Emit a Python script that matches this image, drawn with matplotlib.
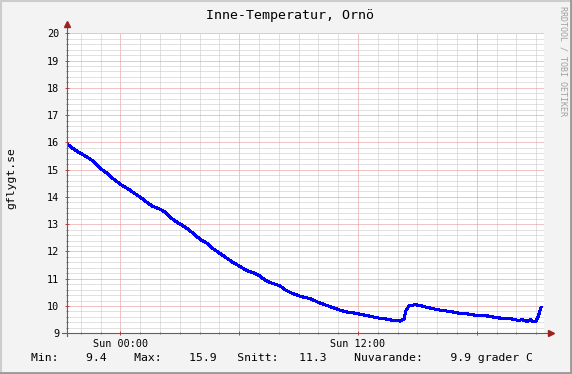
import matplotlib
matplotlib.use("Agg")
import matplotlib.pyplot as plt
from matplotlib.ticker import MultipleLocator, FixedLocator, FixedFormatter
from matplotlib.lines import Line2D

# tid i timmar relativt Sun 00:00, temperatur i grader C
hours = [-2.70, -2.44, -2.14, -1.89, -1.54, -1.28, -1.03, -0.73, -0.42, 0.03,
         0.38, 0.68, 0.99, 1.34, 1.65, 2.00, 2.25, 2.61, 2.91, 3.26,
         3.62, 4.02, 4.37, 4.68, 5.13, 5.68, 6.04, 6.39, 6.80, 7.05,
         7.30, 7.56, 8.06, 8.31, 8.57, 9.07, 9.58, 10.08, 10.74, 11.09,
         11.44, 11.75, 12.10, 12.45, 12.76, 13.11, 13.46, 13.77, 14.12, 14.32,
         14.42, 14.58, 14.88, 15.13, 15.38, 15.79, 16.14, 16.65, 17.15, 17.66,
         18.01, 18.67, 18.92, 19.42, 19.83, 20.08, 20.28, 20.54, 20.69, 20.84,
         20.99, 21.09, 21.24]
temps = [15.95, 15.80, 15.65, 15.55, 15.40, 15.25, 15.05, 14.90, 14.70, 14.45,
         14.30, 14.15, 14.00, 13.80, 13.65, 13.55, 13.45, 13.20, 13.05, 12.90,
         12.70, 12.45, 12.30, 12.10, 11.88, 11.60, 11.45, 11.30, 11.20, 11.10,
         10.95, 10.86, 10.74, 10.60, 10.50, 10.36, 10.27, 10.11, 9.94, 9.85,
         9.78, 9.75, 9.70, 9.65, 9.60, 9.55, 9.52, 9.47, 9.45, 9.52,
         9.84, 10.00, 10.05, 10.02, 9.97, 9.90, 9.85, 9.80, 9.73, 9.70,
         9.65, 9.63, 9.57, 9.55, 9.52, 9.47, 9.50, 9.44, 9.50, 9.43,
         9.45, 9.60, 9.95]

x_ticks = [0, 6, 12, 18]
x_labels = ["Sun 00:00", "", "Sun 12:00", ""]
y_ticks = [9, 10, 11, 12, 13, 14, 15, 16, 17, 18, 19, 20]

title = "Inne-Temperatur, Ornö"
legend_text = "Min:    9.4    Max:    15.9   Snitt:   11.3    Nuvarande:    9.9 grader C"

mono = "DejaVu Sans Mono"
W, H = 572, 374

fig = plt.figure(figsize=(W / 100, H / 100), dpi=100, facecolor="#f3f3f3")
ax = fig.add_axes([66.7 / W, (H - 333.3) / H, (544 - 66.7) / W, 300 / H])
ax.set_facecolor("white")

ax.set_xlim(-2.71, 21.39)
ax.set_ylim(9, 20)

# rutnät, prickat som i rrdtool
ax.xaxis.set_major_locator(FixedLocator(x_ticks))
ax.xaxis.set_major_formatter(FixedFormatter(x_labels))
ax.xaxis.set_minor_locator(MultipleLocator(1))
ax.yaxis.set_major_locator(FixedLocator(y_ticks))
ax.yaxis.set_minor_locator(MultipleLocator(0.2))
ax.grid(which="minor", color="#c4c4c4", linestyle=(0, (1, 1)), linewidth=0.72)
ax.grid(which="major", color="#e08a8a", linestyle=(0, (1, 1)), linewidth=0.72)
ax.set_axisbelow(True)

for s in ax.spines.values():
    s.set_visible(False)

ax.tick_params(which="major", length=2.5, width=0.7, color="#c04040",
               direction="inout", labelsize=7.3, pad=3)
ax.tick_params(which="minor", length=1.5, width=0.7, color="#808080",
               direction="inout")
for lab in ax.get_xticklabels() + ax.get_yticklabels():
    lab.set_fontfamily(mono)
ax.tick_params(axis="y", pad=4)

ax.plot(hours, temps, color="#0000ff", linewidth=1.5, antialiased=False)

# axlar med pilar
ax.add_line(Line2D([0, 0], [-0.01, 1.02], transform=ax.transAxes,
                   color="#606060", linewidth=0.8, clip_on=False))
ax.add_line(Line2D([-0.01, 1.01], [0, 0], transform=ax.transAxes,
                   color="#606060", linewidth=0.8, clip_on=False))
ax.plot([0], [1.03], marker="^", markersize=4, color="#a02020",
        transform=ax.transAxes, clip_on=False)
ax.plot([1.015], [0], marker=">", markersize=4, color="#a02020",
        transform=ax.transAxes, clip_on=False)

fig.text(289.5 / W, 1 - 15.5 / H, title, ha="center", va="center",
         fontfamily=mono, fontsize=9.5, color="black")
fig.text(11 / W, 1 - 178.5 / H, "gflygt.se", rotation=90, ha="center",
         va="center", fontfamily=mono, fontsize=8.2)
fig.text(563 / W, 1 - 61 / H, "RRDTOOL / TOBI OETIKER", rotation=270,
         ha="center", va="center", fontfamily=mono, fontsize=6,
         color="#a0a0a0")
fig.text(31 / W, 1 - 358 / H, legend_text, ha="left", va="center",
         fontfamily=mono, fontsize=8.2)

# ram runt bilden
fig.add_artist(Line2D([0, 1], [1 - 0.5 / H, 1 - 0.5 / H], color="#cccccc", linewidth=1.5))
fig.add_artist(Line2D([0.5 / W, 0.5 / W], [0, 1], color="#cccccc", linewidth=1.5))
fig.add_artist(Line2D([0, 1], [1 / H, 1 / H], color="#999999", linewidth=2))
fig.add_artist(Line2D([1 - 1 / W, 1 - 1 / W], [0, 1], color="#999999", linewidth=2))

fig.savefig("out.png", dpi=100, facecolor=fig.get_facecolor())
